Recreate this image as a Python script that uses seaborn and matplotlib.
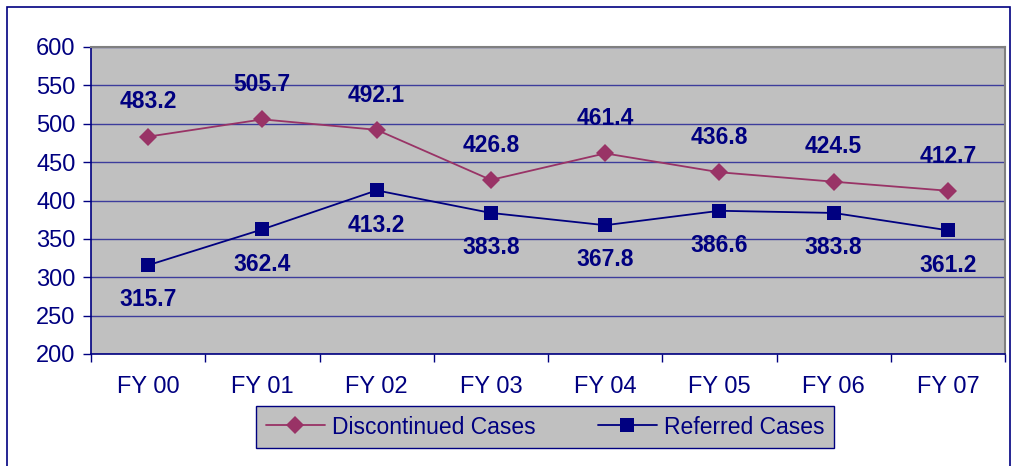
import numpy as np
import pandas as pd
import matplotlib
matplotlib.use("Agg")
import matplotlib.pyplot as plt
import seaborn as sns
from matplotlib.patches import Rectangle

years = ["FY 00", "FY 01", "FY 02", "FY 03", "FY 04", "FY 05", "FY 06", "FY 07"]
discontinued = [483.2, 505.7, 492.1, 426.8, 461.4, 436.8, 424.5, 412.7]
referred = [315.7, 362.4, 413.2, 383.8, 367.8, 386.6, 383.8, 361.2]

NAVY = "#000080"
PLUM = "#993366"

sns.set_theme(style="white")
plt.rcParams["font.family"] = ["Liberation Sans", "DejaVu Sans"]

df = pd.DataFrame({
    "year": years * 2,
    "value": discontinued + referred,
    "series": ["Discontinued Cases"] * len(years) + ["Referred Cases"] * len(years),
})
df["x"] = np.tile(np.arange(len(years)), 2)

fig = plt.figure(figsize=(10.13, 4.66), dpi=100)
ax = fig.add_axes([91 / 1013, 1 - 354 / 466, (1005 - 91) / 1013, (354 - 47) / 466])
ax.set_facecolor("#c0c0c0")

sns.lineplot(data=df, x="x", y="value", hue="series", style="series",
             palette=[PLUM, NAVY], markers=["D", "s"], dashes=False,
             markersize=9.5, linewidth=1.3, markeredgewidth=0, ax=ax)

# data labels: above for discontinued, below for referred
for i, v in enumerate(discontinued):
    ax.annotate(f"{v:.1f}", (i, v), xytext=(0, 25), textcoords="offset points",
                ha="center", va="center", fontsize=16.5, fontweight="bold", color=NAVY)
for i, v in enumerate(referred):
    ax.annotate(f"{v:.1f}", (i, v), xytext=(0, -25), textcoords="offset points",
                ha="center", va="center", fontsize=16.5, fontweight="bold", color=NAVY)

ax.set_xlim(-0.5, len(years) - 0.5)
ax.set_ylim(200, 600)
ax.set_yticks(range(200, 601, 50))
ax.set_xticks(range(len(years)))
ax.set_xticklabels(years)
ax.set_xticks(np.arange(-0.5, len(years), 1), minor=True)
ax.tick_params(axis="x", which="major", length=0, pad=16, labelsize=17, labelcolor=NAVY)
ax.tick_params(axis="x", which="minor", length=6, width=1, color=NAVY, direction="out", bottom=True)
ax.tick_params(axis="y", length=6, width=1, color=NAVY, direction="out", left=True,
               labelsize=17, labelcolor=NAVY, pad=5)
ax.set_xlabel("")
ax.set_ylabel("")

ax.yaxis.grid(True, color="#3c3c9c", linewidth=1)
ax.set_axisbelow(True)
for side in ["left", "bottom"]:
    ax.spines[side].set_color(NAVY)
    ax.spines[side].set_linewidth(1.2)
for side in ["top", "right"]:
    ax.spines[side].set_color("#808080")
    ax.spines[side].set_linewidth(1.5)

handles, labels = ax.get_legend_handles_labels()
ax.get_legend().remove()
leg = fig.legend(handles, labels, loc="center", ncol=2,
                 bbox_to_anchor=((228 + 862) / 2 / 1013, 1 - 427 / 466),
                 fontsize=16.5, frameon=True, fancybox=False, framealpha=1,
                 facecolor="#c0c0c0", edgecolor=NAVY, handlelength=2.6,
                 handletextpad=0.3, columnspacing=2.7, borderpad=0.4,
                 borderaxespad=0)
leg.get_frame().set_linewidth(1)
for t in leg.get_texts():
    t.set_color(NAVY)

# outer chart border
fig.patches.append(Rectangle((7 / 1013, -0.02), (1010 - 7) / 1013, 1 - 7 / 466 + 0.02,
                             transform=fig.transFigure, fill=False,
                             edgecolor=NAVY, linewidth=1.2))

fig.savefig("out.png", dpi=100)
